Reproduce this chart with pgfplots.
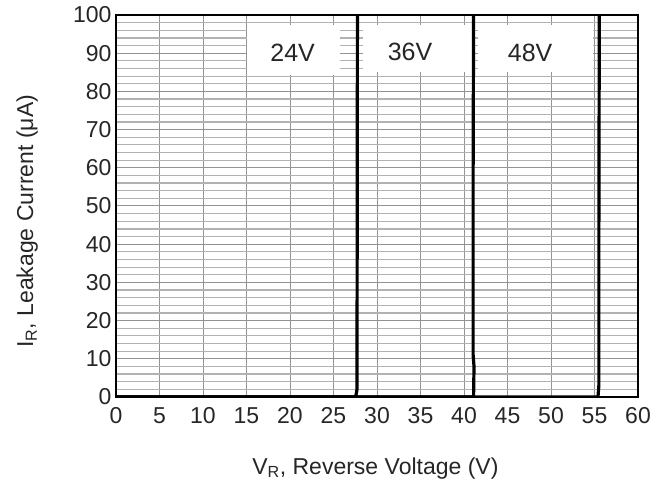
\documentclass[border=0pt]{standalone}
\usepackage{pgfplots}
\pgfplotsset{compat=1.18}
\usepackage{fontspec}
\setmainfont{Liberation Sans}

\begin{document}
\begin{tikzpicture}
\useasboundingbox (-116pt,-90pt) rectangle (552pt,397pt);
\begin{axis}[
    at={(0pt,0pt)}, anchor=south west,
    scale only axis,
    width=522pt, height=382pt,
    xmin=0, xmax=60, ymin=0, ymax=100,
    xtick={0,5,...,60},
    ytick={0,10,...,100},
    minor y tick num=4,
    grid=both,
    major grid style={gray!85, line width=1pt},
    minor grid style={gray!60, line width=1.2pt},
    major tick length=0pt, minor tick length=0pt,
    axis line style={black, line width=1.8pt},
    /pgf/number format/assume math mode=true,
    tick label style={font=\fontsize{23}{26}\selectfont, text=black!85},
    xticklabel style={anchor=north, text height=16.5pt, text depth=0pt, yshift=-6pt},
    yticklabel style={xshift=-1pt},
    xlabel={V\textsubscript{R}, Reverse Voltage (V)},
    ylabel={I\textsubscript{R}, Leakage Current (μA)},
    label style={font=\fontsize{23}{26}\selectfont, text=black!85},
    xlabel style={at={(axis description cs:0.497,-0.186)}, anchor=center},
    ylabel style={at={(axis description cs:-0.17,0.46)}, anchor=center},
    clip=true,
]
% label boxes
\fill[white] (axis cs:15,84.3) rectangle (axis cs:25.8,97.4);
\fill[white] (axis cs:28.4,85) rectangle (axis cs:40.9,97.4);
\fill[white] (axis cs:41.6,85) rectangle (axis cs:54.8,97.4);
\node[font=\fontsize{25}{28}\selectfont, text=black!85] at (axis cs:20.3,90) {24V};
\node[font=\fontsize{25}{28}\selectfont, text=black!85] at (axis cs:33.8,90.4) {36V};
\node[font=\fontsize{25}{28}\selectfont, text=black!85] at (axis cs:47.6,90) {48V};

% 24V
\addplot[black, line width=3.2pt, line join=round] coordinates {
(0,0) (27.55,0) (27.7,2) (27.72,40) (27.75,100)};
% 36V
\addplot[black, line width=3.2pt, line join=round] coordinates {
(0,0) (41.1,0) (41.15,8) (41.05,11) (41.05,60) (41.1,100)};
% 48V
\addplot[black, line width=3.2pt, line join=round] coordinates {
(0,0) (55.4,0) (55.5,3) (55.5,40) (55.55,100)};
\end{axis}
\end{tikzpicture}
\end{document}
